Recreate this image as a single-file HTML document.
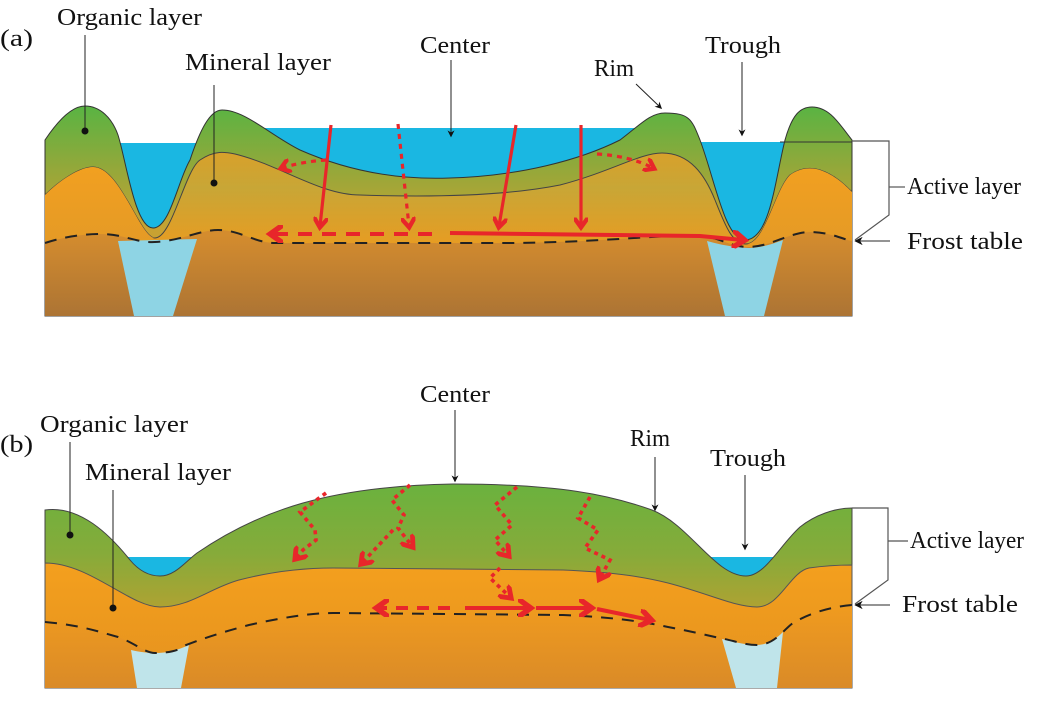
<!DOCTYPE html>
<html><head><meta charset="utf-8"><style>
html,body{margin:0;padding:0;background:#fff;}
svg{display:block;}
text{font-family:"Liberation Serif",serif;font-size:24px;fill:#111;}
</style></head><body>
<svg width="1044" height="701" viewBox="0 0 1044 701" xmlns="http://www.w3.org/2000/svg">
<defs>
<linearGradient id="orgA" x1="0" y1="105" x2="0" y2="230" gradientUnits="userSpaceOnUse">
<stop offset="0" stop-color="#58b443"/><stop offset="0.5" stop-color="#93a83a"/><stop offset="1" stop-color="#c8a232"/></linearGradient>
<linearGradient id="minA" x1="0" y1="150" x2="0" y2="245" gradientUnits="userSpaceOnUse">
<stop offset="0" stop-color="#d9a02a"/><stop offset="0.4" stop-color="#c8a636"/><stop offset="1" stop-color="#e79c22"/></linearGradient>
<linearGradient id="minAside" x1="0" y1="165" x2="0" y2="245" gradientUnits="userSpaceOnUse">
<stop offset="0" stop-color="#f2a020"/><stop offset="1" stop-color="#e49a26"/></linearGradient>
<linearGradient id="perm" x1="0" y1="235" x2="0" y2="316" gradientUnits="userSpaceOnUse">
<stop offset="0" stop-color="#d48c2e"/><stop offset="1" stop-color="#ac7434"/></linearGradient>
<linearGradient id="orgB" x1="0" y1="484" x2="0" y2="610" gradientUnits="userSpaceOnUse">
<stop offset="0" stop-color="#6ab23e"/><stop offset="0.55" stop-color="#86ab3a"/><stop offset="1" stop-color="#b0a232"/></linearGradient>
<linearGradient id="minB" x1="0" y1="560" x2="0" y2="690" gradientUnits="userSpaceOnUse">
<stop offset="0" stop-color="#f4a01e"/><stop offset="1" stop-color="#e4911f"/></linearGradient>
<linearGradient id="permB" x1="0" y1="610" x2="0" y2="690" gradientUnits="userSpaceOnUse">
<stop offset="0" stop-color="#ef9a1f"/><stop offset="1" stop-color="#d98a28"/></linearGradient>
<marker id="ah" viewBox="0 0 10 10" refX="8" refY="5" markerWidth="7" markerHeight="7" orient="auto-start-reverse">
<path d="M0,0 L10,5 L0,10 L3,5 Z" fill="#111"/></marker>
<marker id="rh" viewBox="0 0 10 10" refX="6" refY="5" markerWidth="4.5" markerHeight="4.5" orient="auto-start-reverse">
<path d="M0,0 L7,5 L0,10" fill="none" stroke="#e8262a" stroke-width="3"/></marker>
</defs>

<!-- ===== Panel (a) ===== -->
<rect x="120" y="143" width="80" height="100" fill="#1ab7e2"/>
<rect x="230" y="128" width="420" height="110" fill="#1ab7e2"/>
<rect x="690" y="142" width="162" height="100" fill="#1ab7e2"/>
<path d="M45,316 L45,140 C55,125 70,106 85,106 C100,106 112,118 118,135 C126,160 135,228 153,228 C170,228 178,180 190,160 C200,130 210,110 222,110 C245,110 270,135 300,150 C350,172 400,180 450,178 C520,176 580,160 620,140 C640,125 650,113 665,113 C690,113 692,120 700,140 C715,180 725,240 745,240 C770,240 775,180 785,140 C792,115 800,107 812,107 C830,107 840,125 852,140 L852,316 Z" fill="url(#orgA)" stroke="#333" stroke-width="1"/>
<path d="M45,316 L45,195 C60,180 80,167 93,167 C120,167 140,238 155,238 C172,238 185,170 200,160 C215,150 225,152 235,154 C280,165 320,195 360,195 C420,197 500,197 560,185 C610,172 640,153 662,153 C690,153 705,175 715,200 C725,225 732,244 746,244 C765,244 775,190 790,175 C800,168 810,167 820,170 C835,175 845,185 852,192 L852,316 Z" fill="url(#minA)" stroke="#444" stroke-width="1"/>
<path d="M45,316 L45,195 C60,180 80,167 93,167 C120,167 140,238 155,238 L120,240 L45,243 Z" fill="url(#minAside)"/>
<path d="M852,316 L852,192 C845,185 835,175 820,170 C810,167 800,168 790,175 C775,190 765,244 746,244 L852,241 Z" fill="url(#minAside)"/>
<path d="M45,243 C60,238 80,234 100,234 C125,234 135,243 155,242 C180,241 200,230 218,230 C240,230 255,243 275,243 L500,243 C600,243 660,234 700,236 C720,237 730,247 748,247 C770,247 790,232 810,232 C830,232 845,240 852,241 L852,316 L45,316 Z" fill="url(#perm)"/>
<path d="M118,241 L197,239 L173,316 L134,316 Z" fill="#8ed4e4"/>
<path d="M707,241 C725,246 740,248 750,248 C765,247 775,243 783,240 L764,316 L725,316 Z" fill="#8ed4e4"/>
<path d="M45,243 C60,238 80,234 100,234 C125,234 135,243 155,242 C180,241 200,230 218,230 C240,230 255,243 275,243 L500,243 C600,243 660,234 700,236 C720,237 730,247 748,247 C770,247 790,232 810,232 C830,232 845,240 852,241" fill="none" stroke="#222" stroke-width="2" stroke-dasharray="12,9"/>
<line x1="780" y1="142" x2="852" y2="142" stroke="#333" stroke-width="1"/>

<!-- red arrows a -->
<g stroke="#e8262a" stroke-width="3.2" fill="none" marker-end="url(#rh)">
<line x1="331" y1="125" x2="320" y2="226"/>
<line x1="516" y1="125" x2="499" y2="226"/>
<line x1="581" y1="125" x2="581" y2="226"/>
<line x1="398" y1="124" x2="409" y2="226" stroke-dasharray="5,5"/>
<path d="M326,160 Q300,162 282,168" stroke-dasharray="5,5"/>
<path d="M597,154 Q630,156 653,168" stroke-dasharray="5,5"/>
<line x1="432" y1="234" x2="272" y2="234" stroke-dasharray="14,10" stroke-width="4"/>
<path d="M450,233 L700,236 L743,240" stroke-width="4"/>
</g>

<!-- bracket a -->
<polyline points="852,141 889,141 889,215 855,240" fill="none" stroke="#555" stroke-width="1.2"/>
<line x1="889" y1="187" x2="905" y2="187" stroke="#555" stroke-width="1.2"/>
<line x1="890" y1="241" x2="856" y2="241" stroke="#555" stroke-width="1.2" marker-end="url(#ah)"/>

<!-- leaders a -->
<line x1="85" y1="35" x2="85" y2="130" stroke="#222" stroke-width="1"/><circle cx="85" cy="131" r="3.5" fill="#111"/>
<line x1="214" y1="85" x2="214" y2="182" stroke="#222" stroke-width="1"/><circle cx="214" cy="183" r="3.5" fill="#111"/>
<line x1="451" y1="60" x2="451" y2="136" stroke="#222" stroke-width="1" marker-end="url(#ah)"/>
<line x1="636" y1="84" x2="661" y2="108" stroke="#222" stroke-width="1" marker-end="url(#ah)"/>
<line x1="742" y1="62" x2="742" y2="135" stroke="#222" stroke-width="1" marker-end="url(#ah)"/>

<g lengthAdjust="spacingAndGlyphs">
<text x="0" y="46" textLength="33" lengthAdjust="spacingAndGlyphs">(a)</text>
<text x="57" y="25" textLength="145" lengthAdjust="spacingAndGlyphs">Organic layer</text>
<text x="185" y="70" textLength="146" lengthAdjust="spacingAndGlyphs">Mineral layer</text>
<text x="420" y="53" textLength="70" lengthAdjust="spacingAndGlyphs">Center</text>
<text x="594" y="76" textLength="40" lengthAdjust="spacingAndGlyphs">Rim</text>
<text x="705" y="53" textLength="76" lengthAdjust="spacingAndGlyphs">Trough</text>
<text x="907" y="194" textLength="114" lengthAdjust="spacingAndGlyphs">Active layer</text>
<text x="907" y="249" textLength="116" lengthAdjust="spacingAndGlyphs">Frost table</text>
</g>

<!-- ===== Panel (b) ===== -->
<rect x="124" y="557" width="70" height="30" fill="#1ab7e2"/>
<rect x="706" y="557" width="72" height="30" fill="#1ab7e2"/>
<path d="M45,688 L45,510 C80,505 110,535 130,560 C140,572 150,576 160,576 C175,576 185,562 197,553 C260,510 330,486 453,484 C560,484 610,495 652,510 C690,525 715,576 746,576 C765,576 780,545 800,527 C815,515 835,508 852,508 L852,688 Z" fill="url(#orgB)" stroke="#444" stroke-width="1"/>
<path d="M45,688 L45,563 C90,563 130,607 160,607 C190,607 210,588 239,580 C270,572 300,568 333,568 L563,570 C610,572 640,576 668,583 C710,594 735,607 757,607 C780,607 790,572 809,568 C830,565 845,565 852,565 L852,688 Z" fill="url(#minB)" stroke="#555" stroke-width="1"/>
<path d="M45,622 C80,625 100,632 118,637 C135,643 145,653 155,653 C170,653 180,650 186,645 C210,636 230,630 249,625 C280,618 310,613 333,613 L563,615 C610,617 640,621 668,627 C690,631 705,635 720,638 C735,641 745,645 757,645 C775,645 785,628 793,623 C810,613 830,607 852,605 L852,688 L45,688 Z" fill="url(#permB)"/>
<path d="M131,650 C140,652 148,653 155,653 C168,653 178,650 189,645 L181,688 L137,688 Z" fill="#bfe4ea"/>
<path d="M722,639 C735,642 745,645 757,645 C768,645 777,638 783,632 L777,688 L736,688 Z" fill="#bfe4ea"/>
<path d="M45,622 C80,625 100,632 118,637 C135,643 145,653 155,653 C170,653 180,650 186,645 C210,636 230,630 249,625 C280,618 310,613 333,613 L563,615 C610,617 640,621 668,627 C690,631 705,635 720,638 C735,641 745,645 757,645 C775,645 785,628 793,623 C810,613 830,607 852,605" fill="none" stroke="#222" stroke-width="2" stroke-dasharray="12,9"/>

<!-- red arrows b -->
<g stroke="#e8262a" stroke-width="3.6" fill="none" stroke-dasharray="4,4" marker-end="url(#rh)">
<polyline points="326,493 300,512 315,530 316,540 303,550 296,558"/>
<polyline points="410,485 392,500 404,515 398,528 412,546"/>
<polyline points="393,530 362,563"/>
<polyline points="517,487 495,505 512,525 495,540 508,555"/>
<polyline points="500,568 490,578 510,597"/>
<polyline points="590,497 578,518 598,530 585,548 610,560 600,578"/>
</g>
<g stroke="#e8262a" stroke-width="4" fill="none" marker-end="url(#rh)">
<line x1="450" y1="608" x2="378" y2="608" stroke-dasharray="12,9"/>
<line x1="465" y1="608" x2="529" y2="608"/>
<line x1="536" y1="608" x2="590" y2="608"/>
<line x1="597" y1="609" x2="650" y2="620"/>
</g>

<!-- bracket b -->
<polyline points="852,508 888,508 888,580 855,604" fill="none" stroke="#555" stroke-width="1.2"/>
<line x1="888" y1="541" x2="908" y2="541" stroke="#555" stroke-width="1.2"/>
<line x1="890" y1="605" x2="856" y2="605" stroke="#555" stroke-width="1.2" marker-end="url(#ah)"/>

<!-- leaders b -->
<line x1="70" y1="442" x2="70" y2="534" stroke="#222" stroke-width="1"/><circle cx="70" cy="535" r="3.5" fill="#111"/>
<line x1="113" y1="490" x2="113" y2="607" stroke="#222" stroke-width="1"/><circle cx="113" cy="608" r="3.5" fill="#111"/>
<line x1="455" y1="410" x2="455" y2="481" stroke="#222" stroke-width="1" marker-end="url(#ah)"/>
<line x1="655" y1="457" x2="655" y2="510" stroke="#222" stroke-width="1" marker-end="url(#ah)"/>
<line x1="745" y1="475" x2="745" y2="549" stroke="#222" stroke-width="1" marker-end="url(#ah)"/>

<text x="0" y="452" textLength="33" lengthAdjust="spacingAndGlyphs">(b)</text>
<text x="40" y="432" textLength="148" lengthAdjust="spacingAndGlyphs">Organic layer</text>
<text x="85" y="480" textLength="146" lengthAdjust="spacingAndGlyphs">Mineral layer</text>
<text x="420" y="402" textLength="70" lengthAdjust="spacingAndGlyphs">Center</text>
<text x="630" y="446" textLength="40" lengthAdjust="spacingAndGlyphs">Rim</text>
<text x="710" y="466" textLength="76" lengthAdjust="spacingAndGlyphs">Trough</text>
<text x="910" y="548" textLength="114" lengthAdjust="spacingAndGlyphs">Active layer</text>
<text x="902" y="612" textLength="116" lengthAdjust="spacingAndGlyphs">Frost table</text>
</svg>
</body></html>
